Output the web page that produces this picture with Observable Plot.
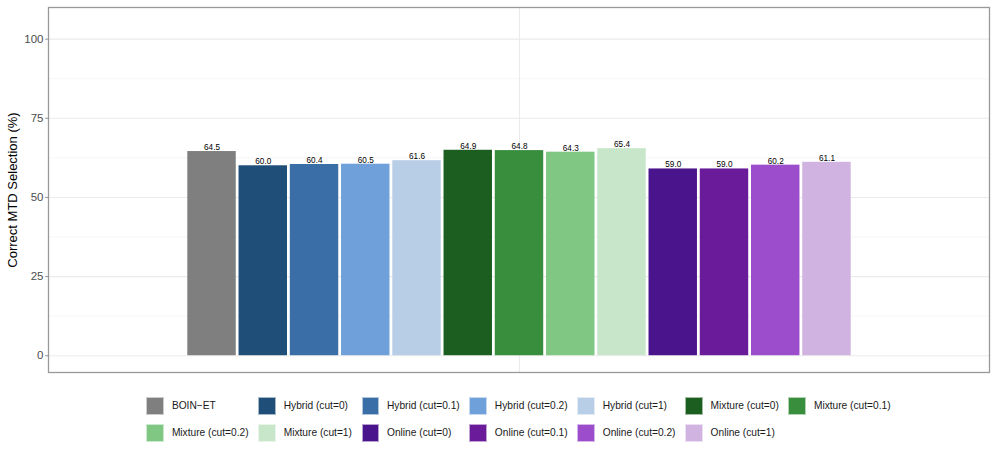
<!DOCTYPE html>
<html>
<head>
<meta charset="utf-8">
<script src="https://cdn.jsdelivr.net/npm/d3@7"></script>
<script src="https://cdn.jsdelivr.net/npm/@observablehq/plot@0.6"></script>
<style>
  body { margin: 0; background: #fff; font-family: "Liberation Sans", Arial, Helvetica, sans-serif; }
  #chart { width: 996px; }
  .legend { margin-left: 48px; width: 941px; display: flex; justify-content: center; margin-top: 17px; }
  .lgrid { display: grid; grid-template-columns: repeat(7, auto); column-gap: 9.6px; row-gap: 9.5px; }
  .item { display: flex; align-items: center; font-size: 10.2px; color: #1a1a1a; }
  .key { width: 17.5px; height: 17.5px; margin-right: 8px; box-sizing: border-box; border: 0.5px solid rgba(255,255,255,0.6); }
</style>
</head>
<body>
<div id="chart"></div>
<script>
const methods = [
  "BOIN\u2212ET",
  "Hybrid (cut=0)", "Hybrid (cut=0.1)", "Hybrid (cut=0.2)", "Hybrid (cut=1)",
  "Mixture (cut=0)", "Mixture (cut=0.1)", "Mixture (cut=0.2)", "Mixture (cut=1)",
  "Online (cut=0)", "Online (cut=0.1)", "Online (cut=0.2)", "Online (cut=1)"
];
const values = [64.5, 60.0, 60.4, 60.5, 61.6, 64.9, 64.8, 64.3, 65.4, 59.0, 59.0, 60.2, 61.1];
const colors = [
  "#7f7f7f",
  "#1f4e79", "#3a6ea6", "#6fa0d9", "#b8cde6",
  "#1b5e20", "#388e3c", "#81c784", "#c8e6c9",
  "#4a148c", "#6a1b9a", "#9c4dcc", "#d0b3e0"
];
const majorTicks = [0, 25, 50, 75, 100];
const minorTicks = [12.5, 37.5, 62.5, 87.5];
const yLabel = "Correct MTD Selection (%)";

const data = methods.map((m, i) => ({method: m, value: values[i], color: colors[i]}));

// horizontal dash symbol used for the y-axis tick marks
const dash = {draw(context, size) { const r = Math.sqrt(size) / 2; context.moveTo(-r, 0); context.lineTo(r, 0); }};

const plot = Plot.plot({
  width: 996,
  height: 380,
  marginLeft: 48,
  marginRight: 7,
  marginTop: 7,
  marginBottom: 8,
  style: {fontFamily: '"Liberation Sans", Arial, Helvetica, sans-serif', background: "#fff", color: "#000"},
  x: {domain: methods, range: [185.9, 852.1], padding: 0, round: false, axis: null},
  y: {domain: [-5.3, 110], axis: null},
  marks: [
    Plot.ruleY(minorTicks, {stroke: "#f2f2f2", strokeWidth: 0.7}),
    Plot.ruleY(majorTicks, {stroke: "#ebebeb", strokeWidth: 1.1}),
    Plot.ruleX([methods[6]], {stroke: "#ebebeb", strokeWidth: 1.1}),
    Plot.barY(data, {x: "method", y: "value", fill: d => d.color, insetLeft: 1.4, insetRight: 1.4}),
    Plot.text(data, {x: "method", y: "value", text: d => d.value.toFixed(1), lineAnchor: "bottom", dy: -1.5, fontSize: 8.2, fill: "#000"}),
    Plot.dot(majorTicks, {y: d => d, frameAnchor: "left", dx: -1.8, symbol: dash, r: 1.7, stroke: "#999", strokeWidth: 1.1}),
    Plot.text(majorTicks, {y: d => d, text: d => String(d), frameAnchor: "left", textAnchor: "end", dx: -5, fontSize: 11.5, fill: "#4d4d4d"}),
    Plot.text([yLabel], {frameAnchor: "left", textAnchor: "middle", rotate: -90, dx: -36, fontSize: 13, fill: "#000"}),
    Plot.frame({stroke: "#999", strokeWidth: 1.3})
  ]
});
document.getElementById("chart").appendChild(plot);

const legend = document.createElement("div");
legend.className = "legend";
const grid = document.createElement("div");
grid.className = "lgrid";
methods.forEach((m, i) => {
  const it = document.createElement("div");
  it.className = "item";
  const k = document.createElement("span");
  k.className = "key";
  k.style.background = colors[i];
  const t = document.createElement("span");
  t.textContent = m;
  it.appendChild(k); it.appendChild(t);
  grid.appendChild(it);
});
legend.appendChild(grid);
document.getElementById("chart").appendChild(legend);
</script>
</body>
</html>
